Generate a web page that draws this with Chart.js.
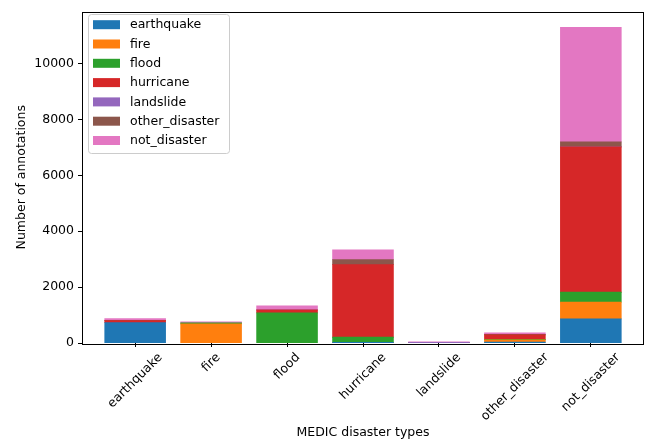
<!DOCTYPE html>
<html>
<head>
<meta charset="utf-8">
<script src="https://cdn.jsdelivr.net/npm/chart.js@4.4.1/dist/chart.umd.min.js"></script>
<style>
  html, body { margin: 0; padding: 0; background: #fff; }
  #myChart { display: block; }
</style>
</head>
<body>
<canvas id="myChart" width="649" height="442"></canvas>
<script>
// categories on the x axis (and the stacked series share the same names)
const categories = ['earthquake', 'fire', 'flood', 'hurricane', 'landslide', 'other_disaster', 'not_disaster'];
const seriesNames = ['earthquake', 'fire', 'flood', 'hurricane', 'landslide', 'other_disaster', 'not_disaster'];

// values, one array per stacked series
const earthquakeVals = [730, 0, 0, 10, 0, 30, 860];
const fireVals = [0, 685, 0, 15, 0, 80, 600];
const floodVals = [0, 35, 1075, 180, 0, 20, 355];
const hurricaneVals = [70, 0, 105, 2600, 0, 160, 5200];
const landslideVals = [0, 0, 5, 0, 15, 0, 5];
const otherDisasterVals = [10, 0, 0, 175, 10, 15, 175];
const notDisasterVals = [60, 35, 140, 350, 10, 60, 4100];

const yTicks = [0, 2000, 4000, 6000, 8000, 10000];

const colors = ['#1f77b4', '#ff7f0e', '#2ca02c', '#d62728', '#9467bd', '#8c564b', '#e377c2'];
const allVals = [earthquakeVals, fireVals, floodVals, hurricaneVals, landslideVals, otherDisasterVals, notDisasterVals];

const FONT = 'DejaVu Sans';
const FS = 12.5;

const datasets = seriesNames.map((name, s) => ({
    label: name,
    // zero segments are skipped so they leave no hairline
    data: allVals[s].map((v, i) => ({ x: i, y: v === 0 ? null : v })),
    backgroundColor: colors[s],
    borderWidth: 0,
    inflateAmount: 0.4,
    categoryPercentage: 1,
    barPercentage: 0.8
}));

// frame, rotated x labels and the legend box, drawn matplotlib style
const decor = {
    id: 'decor',
    afterDraw(chart) {
        const ctx = chart.ctx;
        const a = chart.chartArea;
        const xs = chart.scales.x;
        ctx.save();
        ctx.strokeStyle = '#000';
        ctx.lineWidth = 1;
        ctx.strokeRect(Math.round(a.left) + 0.5, Math.round(a.top) + 0.5,
            Math.round(a.right - a.left) - 1, Math.round(a.bottom - a.top));

        // x tick labels, rotated 45 and centred on the tick
        ctx.font = FS + 'px "' + FONT + '"';
        ctx.fillStyle = '#000';
        ctx.textAlign = 'center';
        ctx.textBaseline = 'middle';
        categories.forEach((c, i) => {
            const w = ctx.measureText(c).width;
            const h = FS;
            const cx = xs.getPixelForValue(i);
            const cy = a.bottom + 4 + 4 + (w + h) * Math.SQRT1_2 / 2;
            ctx.save();
            ctx.translate(cx, cy);
            ctx.rotate(-Math.PI / 4);
            ctx.fillText(c, 0, 0);
            ctx.restore();
        });

        // legend
        const lx = 88, ly = 14, lw = 141, lh = 139;
        ctx.fillStyle = 'rgba(255,255,255,0.8)';
        ctx.strokeStyle = '#cccccc';
        ctx.beginPath();
        ctx.roundRect(lx + 0.5, ly + 0.5, lw, lh, 3);
        ctx.fill();
        ctx.stroke();
        ctx.textAlign = 'left';
        seriesNames.forEach((name, i) => {
            const cy = ly + 10.7 + i * 19.3;
            ctx.fillStyle = colors[i];
            ctx.fillRect(93, cy - 4.5, 27, 9);
            ctx.fillStyle = '#000';
            ctx.fillText(name, 130, cy + 0.5);
        });
        ctx.restore();
    }
};

new Chart(document.getElementById('myChart').getContext('2d'), {
    type: 'bar',
    data: { datasets: datasets },
    options: {
        responsive: false,
        animation: false,
        devicePixelRatio: 1,
        layout: { padding: { left: 0, top: 7, right: 5, bottom: 0 } },
        plugins: {
            legend: { display: false },
            tooltip: { enabled: false }
        },
        scales: {
            x: {
                type: 'linear',
                stacked: true,
                offset: false,
                min: -0.7,
                max: 6.7,
                afterBuildTicks: scale => {
                    scale.ticks = categories.map((_, i) => ({ value: i }));
                },
                afterFit: scale => { scale.height = 99; },
                ticks: { display: false, includeBounds: false },
                grid: { offset: false, drawOnChartArea: false, drawTicks: true, tickLength: 4, color: '#000' },
                border: { display: false },
                title: {
                    display: true,
                    text: 'MEDIC disaster types',
                    color: '#000',
                    font: { family: FONT, size: FS },
                    padding: { top: 0, bottom: 1.5 }
                }
            },
            y: {
                stacked: true,
                min: 0,
                max: 11860,
                afterBuildTicks: scale => {
                    scale.ticks = yTicks.map(v => ({ value: v }));
                },
                afterFit: scale => { scale.width = 82; },
                ticks: {
                    color: '#000',
                    padding: 4,
                    includeBounds: false,
                    font: { family: FONT, size: FS },
                    callback: v => String(v)
                },
                grid: { drawOnChartArea: false, drawTicks: true, tickLength: 4, color: '#000' },
                border: { display: false },
                title: {
                    display: true,
                    text: 'Number of annotations',
                    color: '#000',
                    font: { family: FONT, size: FS },
                    padding: { top: 14.5, bottom: 0 }
                }
            }
        }
    },
    plugins: [decor]
});
</script>
</body>
</html>
